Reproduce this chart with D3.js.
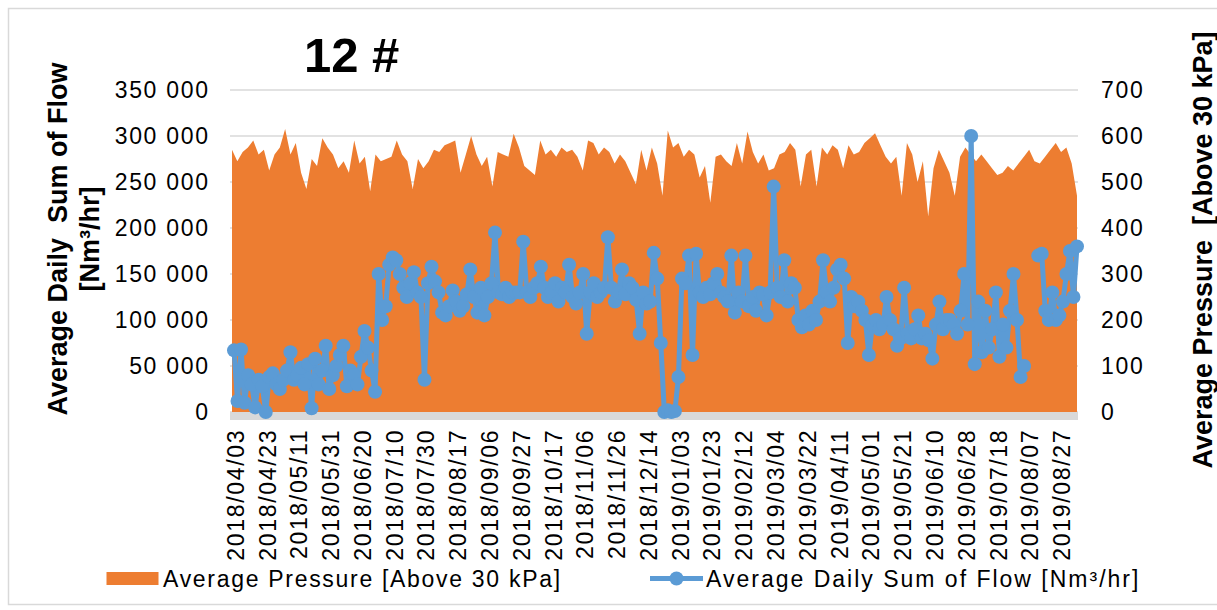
<!DOCTYPE html>
<html>
<head>
<meta charset="utf-8">
<script src="https://cdn.jsdelivr.net/npm/d3@7"></script>
<style>
  body { margin: 0; background: #fff; }
  svg { display: block; }
  text { font-family: "Liberation Sans", Arial, sans-serif; fill: #000; white-space: pre; }
</style>
</head>
<body>
<svg id="chart" width="1217" height="610"></svg>
<script>
// Category labels shown on the date axis (every 18th reading day)
const dateLabels = [
  "2018/04/03", "2018/04/23", "2018/05/11", "2018/05/31", "2018/06/20", "2018/07/10",
  "2018/07/30", "2018/08/17", "2018/09/06", "2018/09/27", "2018/10/17", "2018/11/06",
  "2018/11/26", "2018/12/14", "2019/01/03", "2019/01/23", "2019/02/12", "2019/03/04",
  "2019/03/22", "2019/04/11", "2019/05/01", "2019/05/21", "2019/06/10", "2019/06/28",
  "2019/07/18", "2019/08/07", "2019/08/27"
];

// Left axis: average daily sum of flow [Nm³/hr]
const flowTicks = [0, 50000, 100000, 150000, 200000, 250000, 300000, 350000];
const flowTickLabels = ["0", "50 000", "100 000", "150 000", "200 000", "250 000", "300 000", "350 000"];

// Right axis: average pressure [above 30 kPa]
const pressureTicks = [0, 100, 200, 300, 400, 500, 600, 700];

// Average pressure, evenly sampled over the whole period
const pressureValues = [
  570, 545, 565, 575, 590, 560, 570, 525, 560, 575,
  615, 560, 585, 520, 485, 550, 535, 595, 575, 560,
  530, 545, 520, 590, 540, 555, 480, 560, 545, 550,
  555, 590, 560, 545, 485, 550, 530, 545, 570, 565,
  580, 585, 590, 520, 560, 600, 560, 535, 555, 490,
  565, 560, 555, 605, 575, 535, 525, 515, 590, 560,
  570, 555, 575, 565, 570, 555, 525, 590, 585, 560,
  575, 565, 540, 560, 545, 520, 495, 570, 525, 575,
  540, 470, 612, 575, 585, 555, 570, 560, 510, 535,
  455, 555, 560, 545, 535, 585, 540, 610, 565, 540,
  560, 525, 530, 560, 565, 585, 570, 490, 560, 570,
  490, 575, 560, 580, 570, 530, 580, 560, 565, 585,
  595, 606, 580, 555, 540, 555, 470, 585, 560, 500,
  545, 425, 530, 570, 545, 520, 470, 555, 575, 560,
  545, 560, 545, 530, 515, 520, 535, 525, 540, 555,
  570, 545, 540, 555, 570, 585, 565, 575, 540, 470
];

// Average daily sum of flow, one reading every second day (null = no reading)
const flowValues = [
  67000, 12000, 68000, 10000, 40000, 30000, 5000, 35000, 28000, 0,
  38000, 42000, 30000, 25000, 35000, 45000, 65000, 35000, 40000, 48000,
  30000, 52000, 4000, 58000, 30000, 45000, 72000, 25000, 40000, 50000,
  62000, 72000, 28000, 45000, 40000, 30000, 60000, 88000, 70000, 45000,
  22000, 150000, 100000, 115000, 160000, 168000, 165000, 150000, 135000, 125000,
  140000, 152000, 130000, 125000, 35000, 140000, 158000, 142000, 130000, 108000,
  105000, 115000, 132000, 120000, 110000, 115000, 128000, 155000, 125000, 108000,
  135000, 105000, 125000, 140000, 195000, 130000, 128000, 135000, 125000, 130000,
  130000, 130000, 185000, 130000, 125000, 135000, 140000, 158000, 135000, 125000,
  130000, 140000, 120000, 135000, 130000, 160000, 125000, 118000, 130000, 150000,
  85000, 130000, 140000, 125000, 130000, 135000, 190000, 135000, 120000, 130000,
  155000, 128000, 140000, 135000, 122000, 85000, 130000, 118000, 120000, 173000,
  145000, 75000, 0, 2000, 0, 1000, 38000, 145000, 140000, 170000,
  62000, 172000, 130000, 125000, 135000, 128000, 140000, 150000, 130000, 125000,
  120000, 170000, 108000, 130000, 120000, 170000, 115000, 125000, 110000, 130000,
  128000, 105000, 130000, 245000, 135000, 125000, 165000, 120000, 140000, 135000,
  100000, 92000, 105000, 95000, 110000, 100000, 120000, 165000, 130000, 120000,
  135000, 155000, 160000, 145000, 75000, 125000, 115000, 120000, 110000, 100000,
  62000, 95000, 100000, 90000, 95000, 125000, 100000, 90000, 72000, 80000,
  135000, 85000, 80000, 90000, 105000, 80000, 85000, 78000, 58000, 95000,
  120000, 90000, 100000, 100000, 95000, 85000, 110000, 150000, 95000, 300000,
  52000, 120000, 65000, 110000, 70000, 90000, 130000, 60000, 95000, 70000,
  110000, 150000, 100000, 38000, 50000, null, null, null, 170000, 172000,
  110000, 100000, 130000, 100000, 105000, 120000, 150000, 175000, 125000, 180000
];

const ORANGE = "#ED7D31";
const BLUE = "#5B9BD5";
const GRID = "#D9D9D9";

const svg = d3.select("#chart");
const plot = { left: 232, right: 1077, top: 90, bottom: 412 };

// Chart frame
svg.append("rect")
  .attr("x", 8.5).attr("y", 8.5).attr("width", 1230).attr("height", 596)
  .attr("fill", "none").attr("stroke", GRID).attr("stroke-width", 1.5);

// Scales
const yFlow = d3.scaleLinear().domain([0, 350000]).range([plot.bottom, plot.top]);
const yPress = d3.scaleLinear().domain([0, 700]).range([plot.bottom, plot.top]);
const xPress = d3.scaleLinear().domain([0, pressureValues.length - 1]).range([plot.left, plot.right]);
const xFlow = d3.scaleLinear().domain([0, flowValues.length - 1]).range([plot.left + 2, plot.right]);
const xLabel = d3.scalePoint().domain(dateLabels).range([235.7, 1062]);

// Horizontal gridlines
svg.append("g")
  .selectAll("line")
  .data(flowTicks)
  .join("line")
  .attr("x1", plot.left - 2).attr("x2", plot.right + 1)
  .attr("y1", d => yFlow(d)).attr("y2", d => yFlow(d))
  .attr("stroke", GRID).attr("stroke-width", 1.5);

// Pressure area
const area = d3.area()
  .x((d, i) => xPress(i))
  .y0(yPress(0))
  .y1(d => yPress(d));
svg.append("path")
  .datum(pressureValues)
  .attr("d", area)
  .attr("fill", ORANGE);

// Category axis line
svg.append("rect")
  .attr("x", plot.left - 2).attr("y", plot.bottom)
  .attr("width", plot.right - plot.left + 3).attr("height", 8)
  .attr("fill", GRID);

// Flow line with markers
const line = d3.line()
  .defined(d => d !== null)
  .x((d, i) => xFlow(i))
  .y(d => yFlow(d));
svg.append("path")
  .datum(flowValues)
  .attr("d", line)
  .attr("fill", "none")
  .attr("stroke", BLUE)
  .attr("stroke-width", 5)
  .attr("stroke-linejoin", "round");

svg.append("g")
  .selectAll("circle")
  .data(flowValues.map((v, i) => ({ v, i })).filter(d => d.v !== null))
  .join("circle")
  .attr("cx", d => xFlow(d.i))
  .attr("cy", d => yFlow(d.v))
  .attr("r", 7)
  .attr("fill", BLUE);

// Left axis labels
const tickFont = 23, tickSpacing = 1.7;
svg.append("g")
  .selectAll("text")
  .data(flowTicks)
  .join("text")
  .attr("x", 208 + tickSpacing)
  .attr("y", d => yFlow(d))
  .attr("dy", "0.35em")
  .attr("text-anchor", "end")
  .attr("font-size", tickFont)
  .attr("letter-spacing", tickSpacing)
  .text((d, i) => flowTickLabels[i]);

// Right axis labels
svg.append("g")
  .selectAll("text")
  .data(pressureTicks)
  .join("text")
  .attr("x", 1101)
  .attr("y", d => yPress(d))
  .attr("dy", "0.35em")
  .attr("text-anchor", "start")
  .attr("font-size", tickFont)
  .attr("letter-spacing", tickSpacing)
  .text(d => d);

// Date labels, rotated
svg.append("g")
  .selectAll("text")
  .data(dateLabels)
  .join("text")
  .attr("transform", d => `translate(${xLabel(d)},${427 + tickSpacing}) rotate(-90)`)
  .attr("dy", "0.35em")
  .attr("text-anchor", "end")
  .attr("font-size", tickFont)
  .attr("letter-spacing", tickSpacing)
  .text(d => d);

// Title
svg.append("text")
  .attr("x", 304).attr("y", 72)
  .attr("font-size", 49).attr("font-weight", "bold")
  .text("12 #");

// Axis titles
svg.append("text")
  .attr("transform", "translate(67,239) rotate(-90)")
  .attr("text-anchor", "middle")
  .attr("font-size", 27).attr("font-weight", "bold")
  .text("Average Daily  Sum of Flow");
svg.append("text")
  .attr("transform", "translate(99,239) rotate(-90)")
  .attr("text-anchor", "middle")
  .attr("font-size", 27).attr("font-weight", "bold")
  .text("[Nm³/hr]");
svg.append("text")
  .attr("transform", "translate(1212,250) rotate(-90)")
  .attr("text-anchor", "middle")
  .attr("font-size", 27).attr("font-weight", "bold")
  .text("Average Pressure  [Above 30 kPa]");

// Legend
const legend = svg.append("g");
legend.append("rect")
  .attr("x", 106.5).attr("y", 572).attr("width", 52).attr("height", 13)
  .attr("fill", ORANGE);
legend.append("text")
  .attr("x", 163).attr("y", 587)
  .attr("font-size", tickFont).attr("letter-spacing", tickSpacing)
  .text("Average Pressure [Above 30 kPa]");
legend.append("line")
  .attr("x1", 650).attr("x2", 703).attr("y1", 578.5).attr("y2", 578.5)
  .attr("stroke", BLUE).attr("stroke-width", 5);
legend.append("circle")
  .attr("cx", 676.5).attr("cy", 578.5).attr("r", 7)
  .attr("fill", BLUE);
legend.append("text")
  .attr("x", 706).attr("y", 587)
  .attr("font-size", tickFont).attr("letter-spacing", 2)
  .text("Average Daily Sum of Flow [Nm³/hr]");
</script>
</body>
</html>
